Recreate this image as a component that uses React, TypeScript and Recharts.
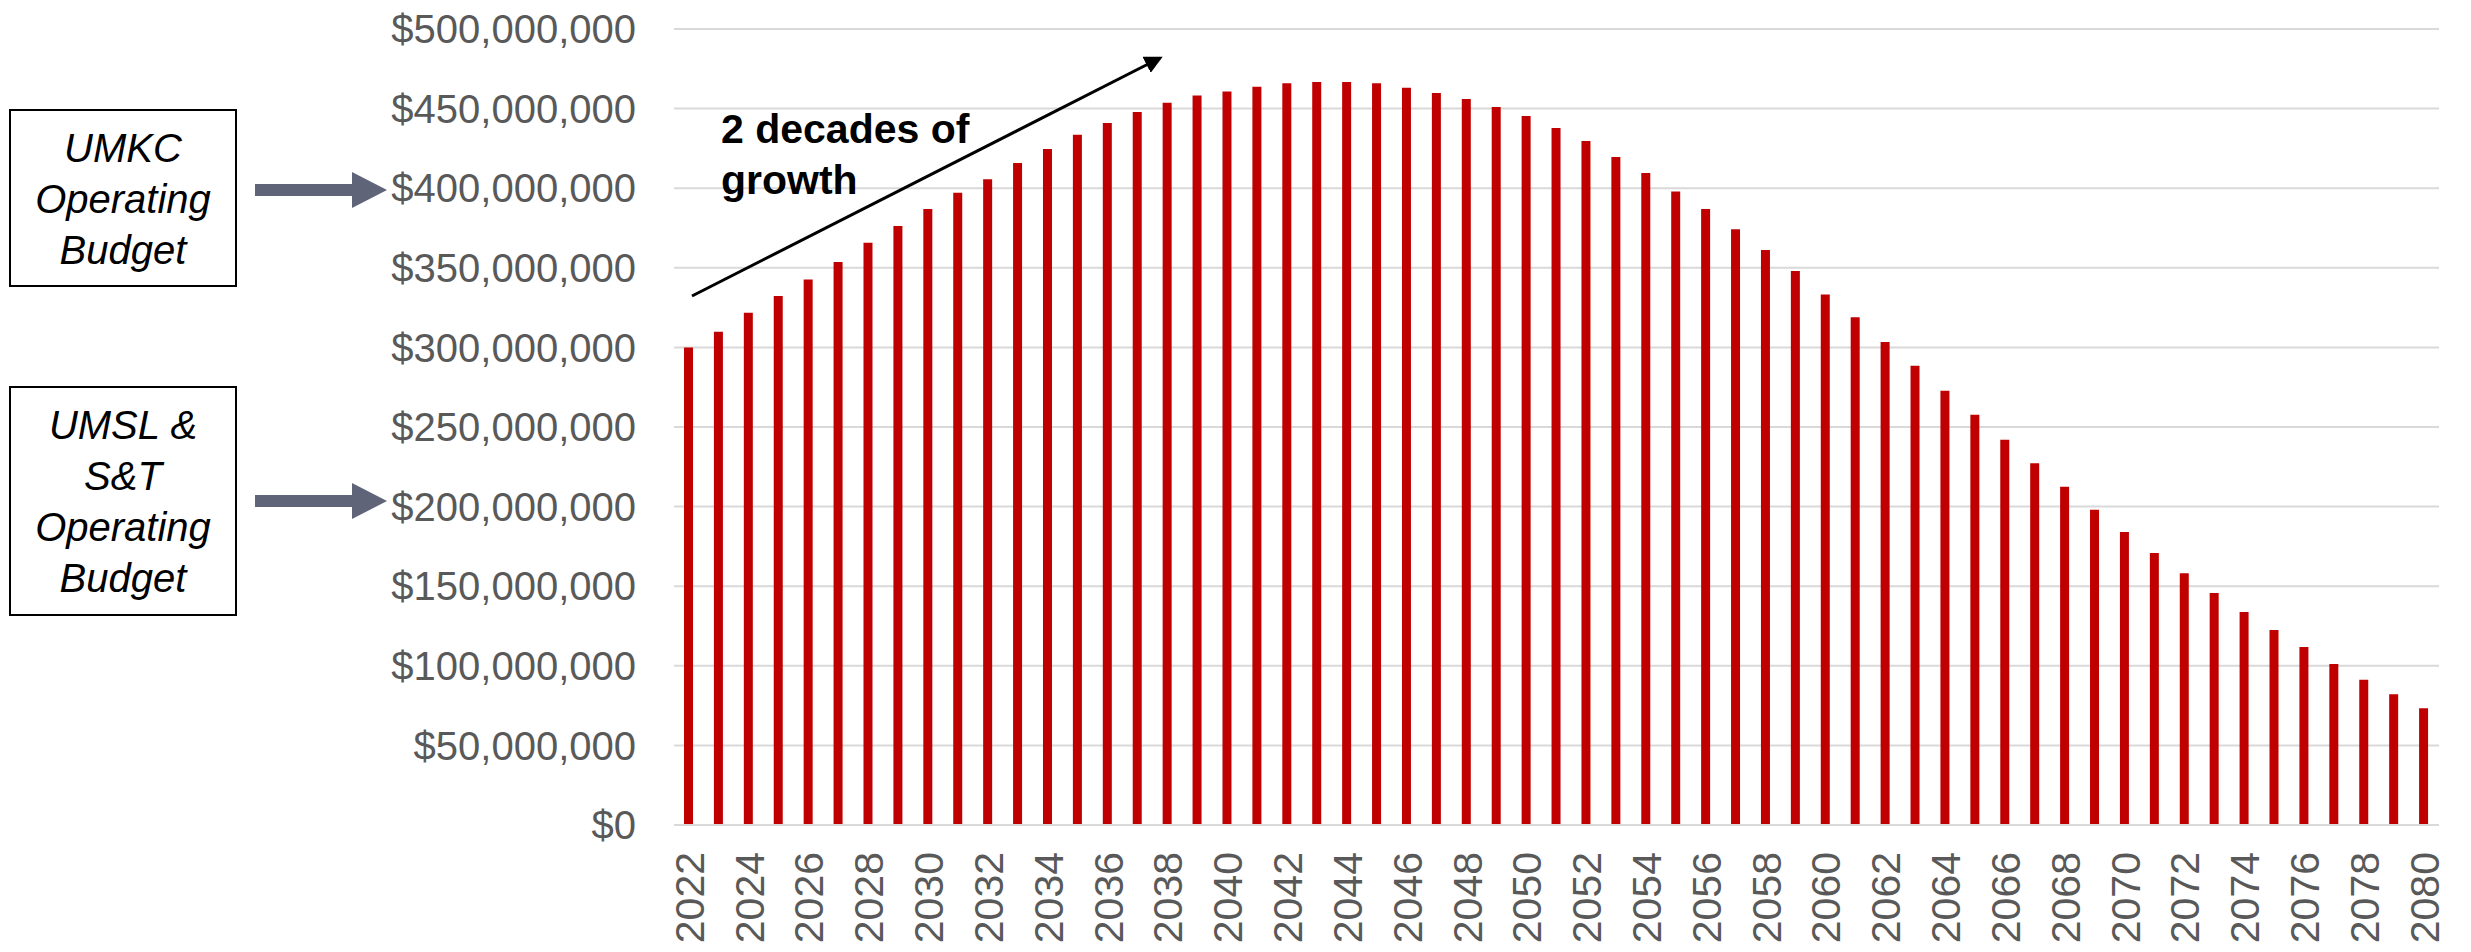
import { BarChart, Bar, XAxis, YAxis, CartesianGrid } from 'recharts'

const years = [
  '2022', '2023', '2024', '2025', '2026', '2027', '2028', '2029', '2030', '2031',
  '2032', '2033', '2034', '2035', '2036', '2037', '2038', '2039', '2040', '2041',
  '2042', '2043', '2044', '2045', '2046', '2047', '2048', '2049', '2050', '2051',
  '2052', '2053', '2054', '2055', '2056', '2057', '2058', '2059', '2060', '2061',
  '2062', '2063', '2064', '2065', '2066', '2067', '2068', '2069', '2070', '2071',
  '2072', '2073', '2074', '2075', '2076', '2077', '2078', '2079', '2080',
]

// millions of dollars
const amounts = [
  300.0, 309.8, 321.8, 332.3, 342.7, 353.6, 365.7, 376.2, 386.9, 397.2,
  405.6, 415.8, 424.6, 433.6, 441.0, 447.8, 453.7, 458.3, 460.8, 463.7,
  465.9, 466.7, 466.7, 465.9, 463.1, 459.8, 456.0, 451.0, 445.3, 437.8,
  429.6, 419.6, 409.5, 398.0, 386.9, 374.2, 361.2, 348.0, 333.3, 318.9,
  303.4, 288.5, 272.8, 257.7, 242.0, 227.2, 212.5, 198.0, 184.0, 170.8,
  158.1, 145.7, 133.8, 122.5, 111.8, 101.1, 91.3, 82.1, 73.3,
]

const yTicks = [0, 50, 100, 150, 200, 250, 300, 350, 400, 450, 500]

const growthLabel = ['2 decades of', 'growth']
const umkcLabel = ['UMKC', 'Operating', 'Budget']
const umslLabel = ['UMSL &', 'S&T', 'Operating', 'Budget']

const data = years.map((year, i) => ({ year, amount: amounts[i] }))

const FONT = '"Liberation Sans", Arial, sans-serif'
const fmtMoney = (v: number) => '$' + (v * 1e6).toLocaleString('en-US')

const YearTick = ({ x, y, payload }: { x?: number; y?: number; payload?: { value: string } }) => (
  <text
    x={x}
    y={y}
    transform={`rotate(-90, ${x}, ${y})`}
    textAnchor="end"
    dy="0.36em"
    fill="#595959"
    fontSize={41}
    fontFamily={FONT}
  >
    {payload?.value}
  </text>
)

const BlockArrow = ({ cy }: { cy: number }) => (
  <polygon
    points={`255,${cy - 6} 352,${cy - 6} 352,${cy - 18} 387,${cy} 352,${cy + 18} 352,${cy + 6} 255,${cy + 6}`}
    fill="#5f6478"
  />
)

const LabelBox = ({ y, h, lines, firstBase }: { y: number; h: number; lines: string[]; firstBase: number }) => (
  <g>
    <rect x={10} y={y} width={226} height={h} fill="#fff" stroke="#000" strokeWidth={2} />
    {lines.map((t, i) => (
      <text key={t} x={123} y={firstBase + i * 51} textAnchor="middle" fontStyle="italic" fontSize={40} fontFamily={FONT} fill="#000">
        {t}
      </text>
    ))}
  </g>
)

export default function App() {
  return (
    <div style={{ position: 'absolute', left: 0, top: 0, width: 2471, height: 952, background: '#fff' }}>
      <BarChart
        width={2471}
        height={952}
        data={data}
        margin={{ top: 29, right: 32, bottom: 0, left: 0 }}
      >
        <CartesianGrid vertical={false} stroke="#d9d9d9" strokeWidth={2} />
        <XAxis
          dataKey="year"
          height={127}
          interval={1}
          tickLine={false}
          tickSize={0}
          tickMargin={27}
          axisLine={{ stroke: '#d9d9d9', strokeWidth: 2 }}
          tick={<YearTick />}
        />
        <YAxis
          width={674}
          domain={[0, 500]}
          ticks={yTicks}
          tickFormatter={fmtMoney}
          axisLine={false}
          tickLine={false}
          tickSize={0}
          tickMargin={38}
          tick={{ fill: '#595959', fontSize: 40, fontFamily: FONT }}
        />
        <Bar dataKey="amount" fill="#c00000" barSize={9} isAnimationActive={false} />
      </BarChart>

      <svg width={2471} height={952} style={{ position: 'absolute', left: 0, top: 0, pointerEvents: 'none' }}>
        <defs>
          <marker id="tip" markerWidth="6" markerHeight="6" refX="5" refY="3" orient="auto" markerUnits="strokeWidth">
            <path d="M0,0 L6,3 L0,6 z" fill="#000" />
          </marker>
        </defs>
        <LabelBox y={110} h={176} lines={umkcLabel} firstBase={162} />
        <LabelBox y={387} h={228} lines={umslLabel} firstBase={439} />
        <BlockArrow cy={190} />
        <BlockArrow cy={501} />
        <line x1={692} y1={296} x2={1160} y2={58} stroke="#000" strokeWidth={3} markerEnd="url(#tip)" />
        {growthLabel.map((t, i) => (
          <text key={t} x={721} y={143 + i * 51} fontWeight="bold" fontSize={41} fontFamily={FONT} fill="#000">
            {t}
          </text>
        ))}
      </svg>
    </div>
  )
}
